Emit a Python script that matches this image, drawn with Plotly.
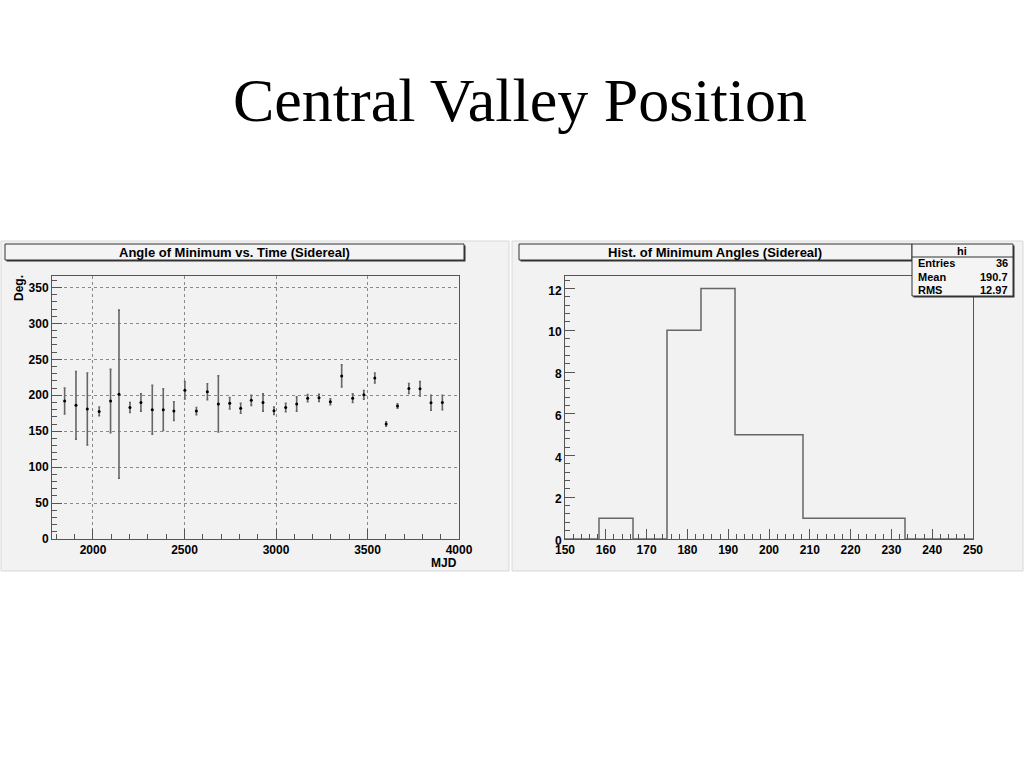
import plotly.graph_objects as go

# ---- Data: Angle of minimum vs time (sidereal) ----
mjd = [1845, 1907, 1969, 2034, 2096, 2142, 2202, 2262, 2324, 2384, 2442, 2502,
       2565, 2625, 2685, 2747, 2807, 2865, 2929, 2989, 3053, 3113, 3173, 3235,
       3297, 3359, 3419, 3480, 3540, 3602, 3664, 3726, 3787, 3847, 3909]
angle = [192, 186, 181, 177.6, 192, 201.5, 183, 190, 180, 180, 178, 207,
         178, 205, 188, 189, 182, 193, 190, 178.5, 183, 188, 196, 196.5,
         191, 227, 196, 200.7, 224, 160, 185, 209.5, 209, 189.6, 190]
angle_err = [18, 47, 50, 6, 44, 117, 7, 12, 34, 29, 13, 12,
             5, 11, 39, 8, 7, 7, 12, 5, 6, 10, 5, 5,
             4, 15.5, 6, 6, 7, 3, 3, 7, 10, 10.5, 10]

# ---- Data: histogram of minimum angles ----
bin_edges = [150, 158.33, 166.67, 175, 183.33, 191.67, 200, 208.33,
             216.67, 225, 233.33, 241.67, 250]
bin_counts = [0, 1, 0, 10, 12, 5, 5, 1, 1, 1, 0, 0]
stats_labels = ["Entries", "Mean", "RMS"]
stats_values = ["36", "190.7", "12.97"]

W, H = 1024, 768
def px(x):
    return x / W
def py(y):
    return 1 - y / H

PANEL = "#f2f2f2"
LINE = "#555555"
FONT = "Liberation Sans"

fig = go.Figure()

fig.add_trace(go.Scatter(
    x=mjd, y=angle, mode="markers",
    marker=dict(color="black", size=3),
    error_y=dict(type="data", array=angle_err, color="#666666", thickness=1.6, width=1),
    xaxis="x", yaxis="y", showlegend=False,
))

step_y = bin_counts + [bin_counts[-1]]
fig.add_trace(go.Scatter(
    x=bin_edges, y=step_y, mode="lines", line=dict(shape="hv", color="#666666", width=1.5),
    xaxis="x2", yaxis="y2", showlegend=False,
))

shapes = []
shapes.append(dict(type="rect", xref="paper", yref="paper", x0=px(1), x1=px(509), y0=py(571), y1=py(241),
                   fillcolor=PANEL, line=dict(color="#d8d8d8", width=1), layer="below"))
shapes.append(dict(type="rect", xref="paper", yref="paper", x0=px(512), x1=px(1023), y0=py(571), y1=py(241),
                   fillcolor=PANEL, line=dict(color="#d8d8d8", width=1), layer="below"))

def box(x0, y0, x1, y1, fill="#f4f4f4"):
    shapes.append(dict(type="rect", xref="paper", yref="paper", x0=px(x0 + 1.5), x1=px(x1 + 1.5),
                       y0=py(y1 + 1.5), y1=py(y0 + 1.5), fillcolor="#333333", line=dict(width=0)))
    shapes.append(dict(type="rect", xref="paper", yref="paper", x0=px(x0), x1=px(x1),
                       y0=py(y1), y1=py(y0), fillcolor=fill, line=dict(color="#333333", width=1)))

box(5, 244, 464, 260)
box(519, 244, 912, 260)
box(912, 244, 1013, 296)
shapes.append(dict(type="line", xref="paper", yref="paper", x0=px(912), x1=px(1013), y0=py(257), y1=py(257),
                   line=dict(color="#333333", width=1)))

annotations = [
    dict(text="Central Valley Position", x=px(520), y=py(100), xref="paper", yref="paper", showarrow=False,
         font=dict(family="Liberation Serif", size=62, color="black"), xanchor="center", yanchor="middle"),
    dict(text="Angle of Minimum vs. Time (Sidereal)", x=px(234), y=py(252.5), xref="paper", yref="paper",
         showarrow=False, font=dict(family=FONT, size=13, color="black", weight="bold"),
         xanchor="center", yanchor="middle"),
    dict(text="Hist. of Minimum Angles (Sidereal)", x=px(715), y=py(252.5), xref="paper", yref="paper",
         showarrow=False, font=dict(family=FONT, size=13, color="black", weight="bold"),
         xanchor="center", yanchor="middle"),
    dict(text="hi", x=px(962), y=py(250.5), xref="paper", yref="paper", showarrow=False,
         font=dict(family=FONT, size=11, color="black", weight="bold"), xanchor="center", yanchor="middle"),
    dict(text="Deg.", x=px(19), y=py(288), xref="paper", yref="paper", showarrow=False, textangle=-90,
         font=dict(family=FONT, size=12, color="black", weight="bold"), xanchor="center", yanchor="middle"),
    dict(text="MJD", x=px(459), y=py(563), xref="paper", yref="paper", showarrow=False,
         font=dict(family=FONT, size=12, color="black", weight="bold"), xanchor="right", yanchor="middle"),
]
for i, (lab, val) in enumerate(zip(stats_labels, stats_values)):
    yy = py(263.5 + i * 13)
    annotations.append(dict(text=lab, x=px(916), y=yy, xref="paper", yref="paper", showarrow=False,
                            xanchor="left", yanchor="middle",
                            font=dict(family=FONT, size=11, color="black", weight="bold")))
    annotations.append(dict(text=val, x=px(1010), y=yy, xref="paper", yref="paper", showarrow=False,
                            xanchor="right", yanchor="middle",
                            font=dict(family=FONT, size=11, color="black", weight="bold")))

tickfont = dict(family=FONT, size=12, color="black", weight="bold")
axis_common = dict(showline=True, linecolor=LINE, linewidth=1, mirror=True, zeroline=False,
                   ticks="inside", tickcolor=LINE, tickwidth=1, tickfont=tickfont, automargin=False)

fig.update_layout(
    width=W, height=H, margin=dict(l=0, r=0, t=0, b=0, pad=0, autoexpand=False),
    paper_bgcolor="white", plot_bgcolor=PANEL, hovermode=False,
    shapes=shapes, annotations=annotations,
    xaxis=dict(domain=[px(52), px(459)], range=[1776, 4000], anchor="y", dtick=500, tick0=0,
               ticklen=10, showgrid=True, gridcolor="#8a8a8a", griddash="dot", gridwidth=1,
               minor=dict(dtick=100, ticklen=5, ticks="inside", tickcolor=LINE, showgrid=False),
               **axis_common),
    yaxis=dict(domain=[py(539), py(276)], range=[0, 366], anchor="x", dtick=50, tick0=0,
               ticklen=10, showgrid=True, gridcolor="#8a8a8a", griddash="dot", gridwidth=1,
               minor=dict(dtick=10, ticklen=5, ticks="inside", tickcolor=LINE, showgrid=False),
               **axis_common),
    xaxis2=dict(domain=[px(565), px(973)], range=[150, 250], anchor="y2", dtick=10, tick0=0,
                ticklen=10, showgrid=False,
                minor=dict(dtick=2, ticklen=5, ticks="inside", tickcolor=LINE, showgrid=False),
                **axis_common),
    yaxis2=dict(domain=[py(539), py(276)], range=[0, 12.6], anchor="x2", dtick=2, tick0=0,
                ticklen=10, showgrid=False, ticklabelshift=2,
                minor=dict(dtick=0.4, ticklen=5, ticks="inside", tickcolor=LINE, showgrid=False),
                **axis_common),
)

fig.write_html("out.html", config={"displayModeBar": False},
               post_script="document.body.style.margin='0';document.body.style.overflow='hidden';")
